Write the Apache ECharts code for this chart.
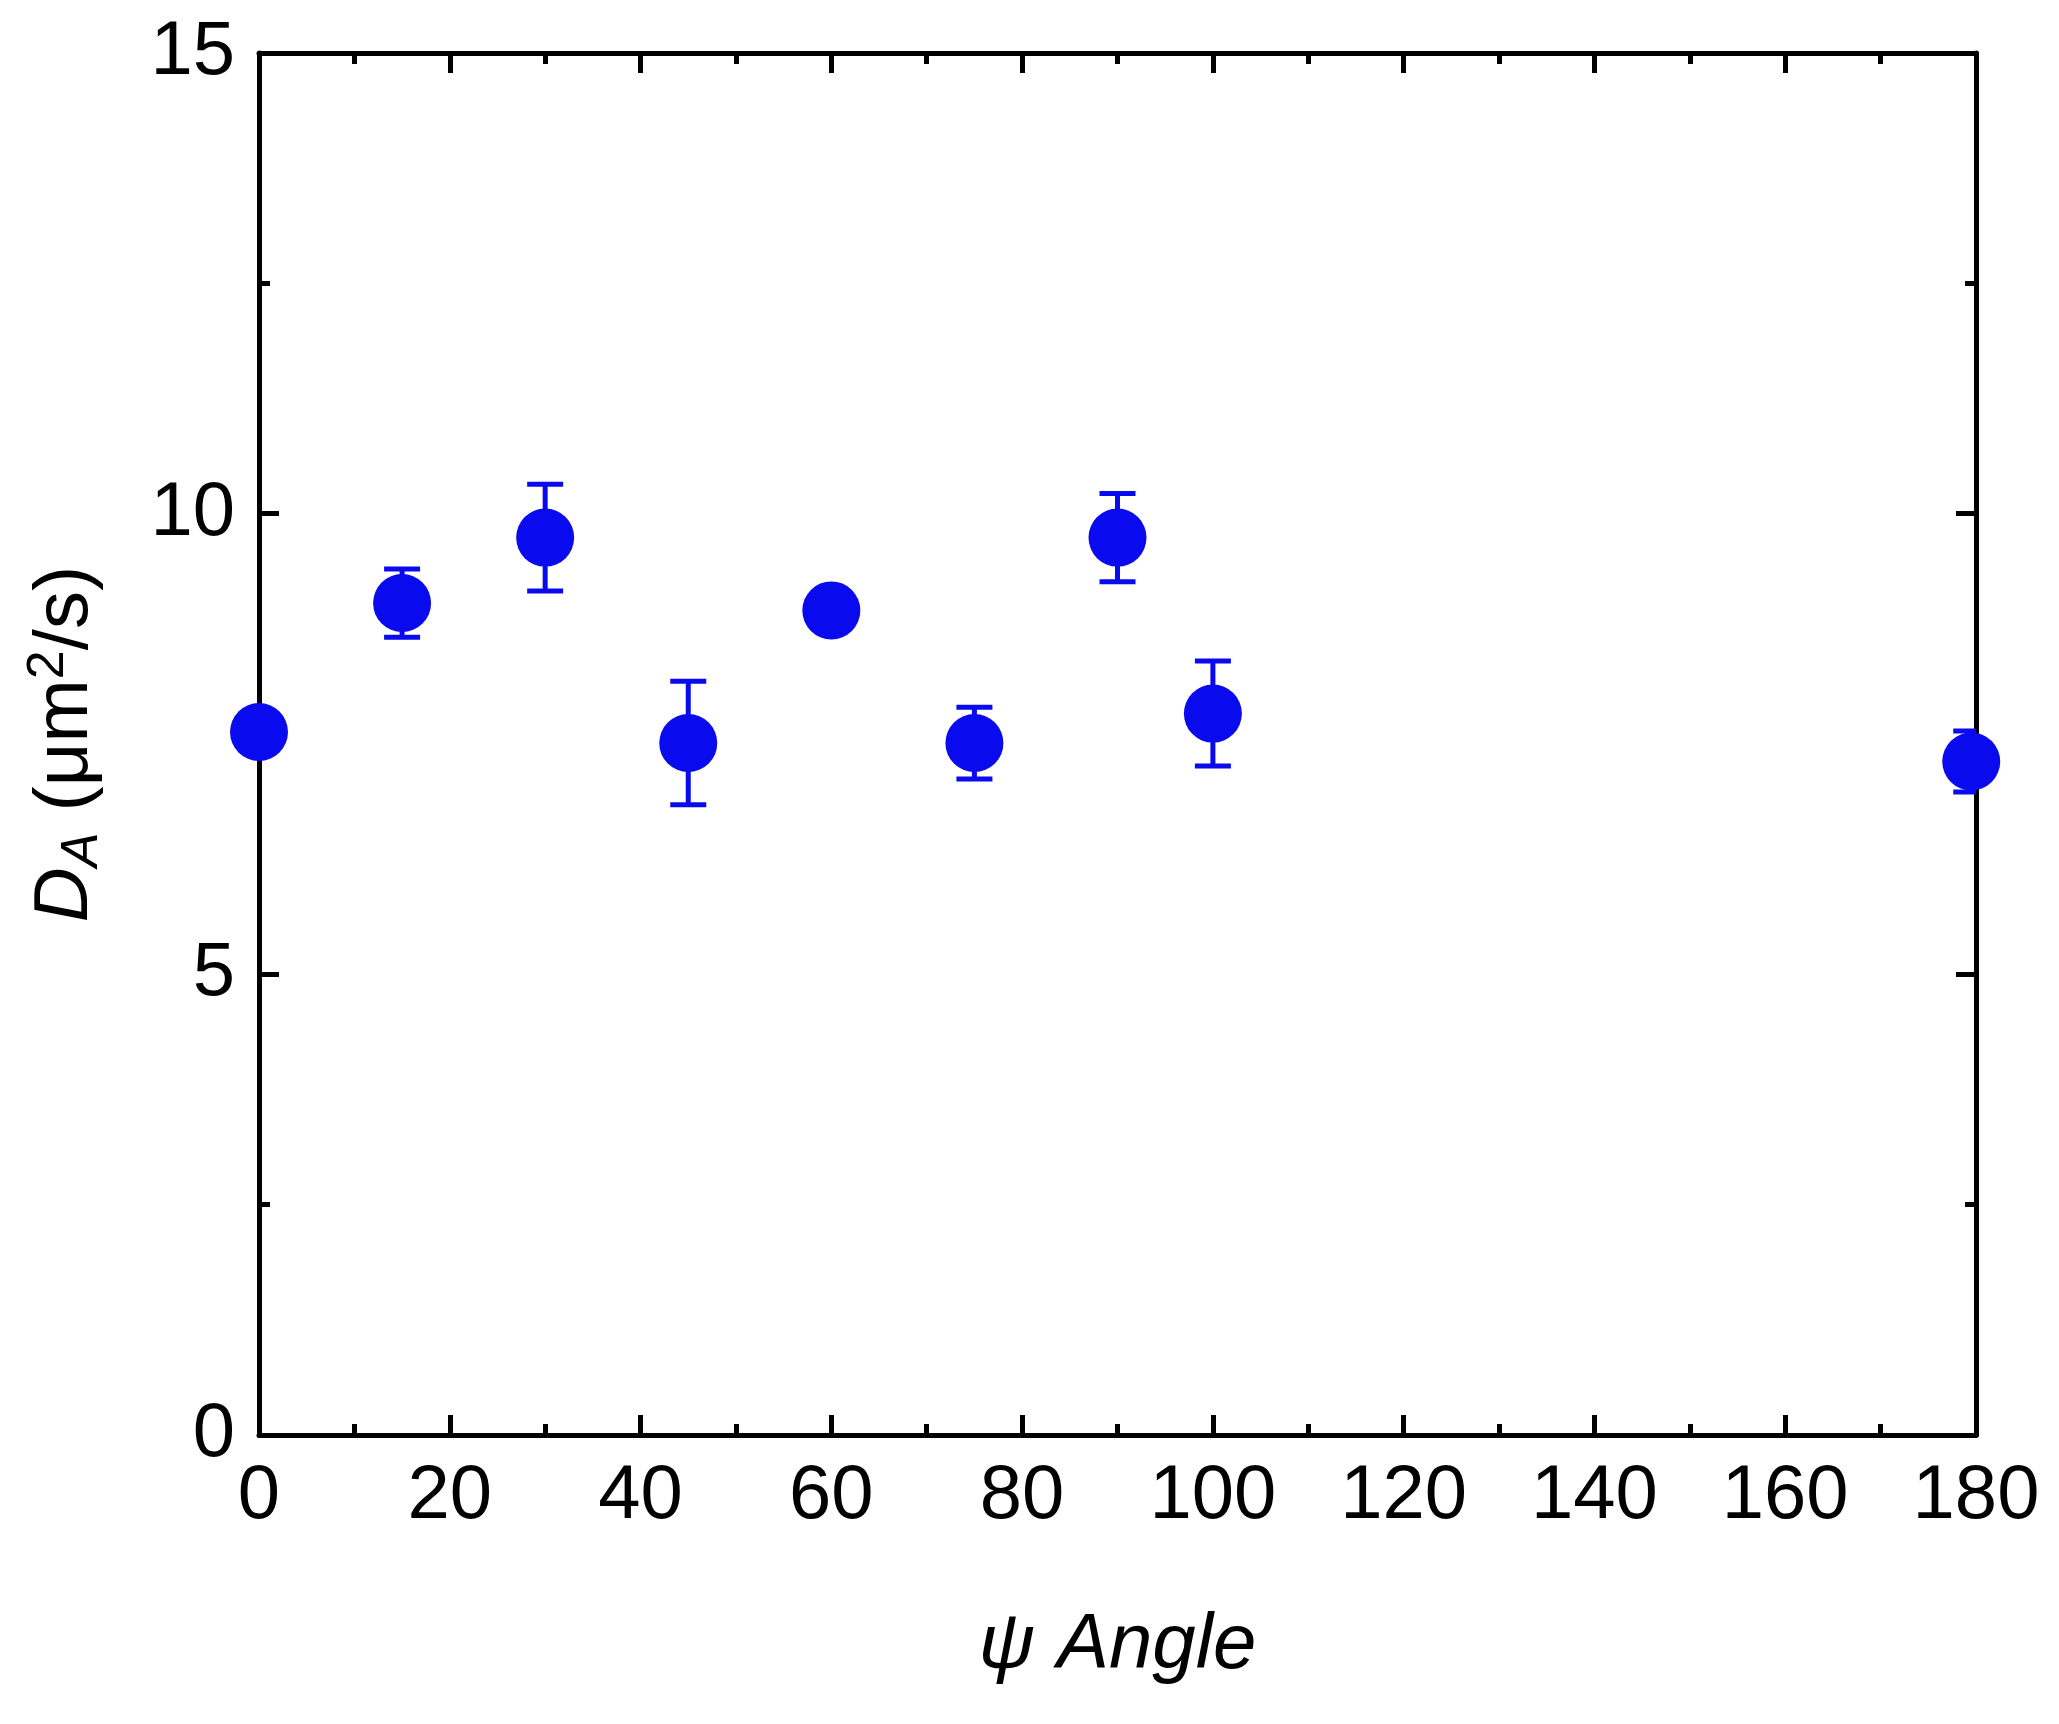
<!DOCTYPE html>
<html><head><meta charset="utf-8">
<script src="https://cdn.jsdelivr.net/npm/echarts@6/dist/echarts.min.js"></script>
<style>html,body{margin:0;background:#fff}#c{width:2059px;height:1724px}</style>
</head><body><div id="c"></div>
<script>
// psi angle vs D_A
const angles = [0, 15, 30, 45, 60, 75, 90, 100, 179.5]
const dA = [7.63, 9.03, 9.74, 7.51, 8.95, 7.51, 9.74, 7.83, 7.31]
const dAErr = [0.15, 0.37, 0.58, 0.67, 0.1, 0.39, 0.48, 0.57, 0.33]

const blue = '#0a0aee'
const font = 'Liberation Sans, Arial, sans-serif'
const pts = angles.map((a, i) => [a, dA[i], dAErr[i]])

const chart = echarts.init(document.getElementById('c'), null, { renderer: 'canvas' })

const axisCommon = {
  axisLine: { show: true, onZero: false, lineStyle: { color: '#000', width: 5 } },
  axisTick: { show: true, inside: true, length: 20, lineStyle: { color: '#000', width: 5 } },
  minorTick: { show: true, splitNumber: 2, length: 11, lineStyle: { color: '#000', width: 5 } },
  splitLine: { show: false }
}

chart.setOption({
  animation: false,
  grid: { left: 259, right: 83, top: 53, bottom: 289 },
  xAxis: [
    {
      ...axisCommon, type: 'value', min: 0, max: 180, interval: 20,
      axisLabel: { fontSize: 76, color: '#000', fontFamily: font, margin: 24 },
      name: 'ψ Angle', nameLocation: 'middle', nameGap: 172,
      nameTextStyle: { fontSize: 78, fontStyle: 'italic', color: '#000', fontFamily: font }
    },
    { ...axisCommon, type: 'value', position: 'top', min: 0, max: 180, interval: 20, axisLabel: { show: false } }
  ],
  yAxis: [
    {
      ...axisCommon, type: 'value', min: 0, max: 15, interval: 5,
      axisLabel: { fontSize: 76, color: '#000', fontFamily: font, margin: 24 },
      name: '{i|D}{sub|A} (μm{sup|2}/s)', nameLocation: 'middle', nameGap: 150,
      nameTextStyle: {
        fontSize: 76, color: '#000', fontFamily: font,
        rich: {
          i: { fontSize: 76, fontStyle: 'italic', fontFamily: font },
          sub: { fontSize: 52, fontStyle: 'italic', fontFamily: font, verticalAlign: 'bottom', padding: [34, 0, 0, 0] },
          sup: { fontSize: 52, fontFamily: font, verticalAlign: 'top', padding: [0, 0, 34, 0] }
        }
      }
    },
    { ...axisCommon, type: 'value', position: 'right', min: 0, max: 15, interval: 5, axisLabel: { show: false } }
  ],
  series: [
    {
      type: 'custom',
      clip: true,
      data: pts,
      renderItem: (params, api) => {
        const x = api.value(0), y = api.value(1), e = api.value(2)
        const top = api.coord([x, y + e]), bot = api.coord([x, y - e])
        const w = 18
        const st = { stroke: blue, lineWidth: 5 }
        return {
          type: 'group',
          children: [
            { type: 'line', shape: { x1: top[0], y1: top[1], x2: bot[0], y2: bot[1] }, style: st },
            { type: 'line', shape: { x1: top[0] - w, y1: top[1], x2: top[0] + w, y2: top[1] }, style: st },
            { type: 'line', shape: { x1: bot[0] - w, y1: bot[1], x2: bot[0] + w, y2: bot[1] }, style: st }
          ]
        }
      }
    },
    {
      type: 'scatter',
      clip: true,
      data: pts.map(p => [p[0], p[1]]),
      symbolSize: 58,
      itemStyle: { color: blue, opacity: 1 },
      z: 5
    }
  ]
})
</script>
</body></html>
